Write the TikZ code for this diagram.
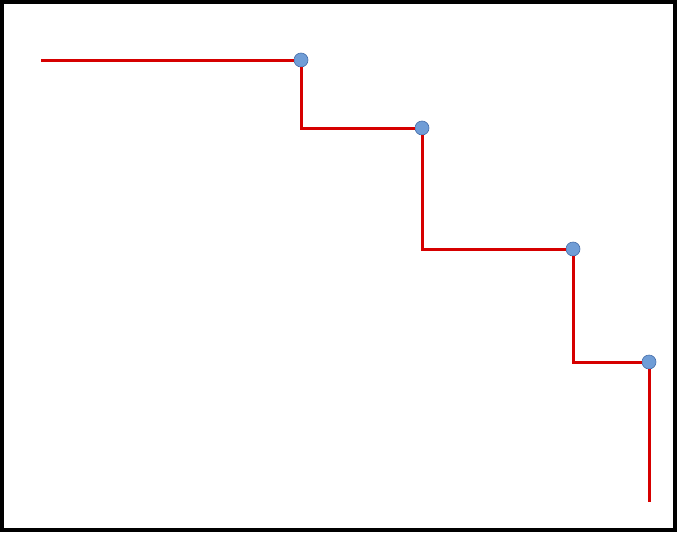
\documentclass[tikz,border=0pt]{standalone}
\begin{document}
\begin{tikzpicture}[x=1pt,y=-1pt,
  redline/.style={draw={rgb,255:red,214;green,0;blue,0}, line width=3pt},
  dot/.style={circle, minimum size=14pt, inner sep=0pt, fill={rgb,255:red,112;green,157;blue,214}, draw={rgb,255:red,70;green,110;blue,170}, line width=0.6pt},
  frame/.style={draw=black, line width=4pt}]
\useasboundingbox (0,0) rectangle (677,533);
\draw[frame] (2,2) rectangle (675,530);
\coordinate (s) at (41,60);
\coordinate (m1) at (157,60);
\coordinate (c1) at (301,128);
\coordinate (c2) at (422,249);
\coordinate (c3) at (573,362);
\coordinate (m2) at (649,445);
\coordinate (e) at (649,502);
\node[dot] (p1) at (301,60) {};
\node[dot] (p2) at (422,128) {};
\node[dot] (p3) at (573,249) {};
\node[dot] (p4) at (649,362) {};
\draw[redline] (s) -- (m1);
\draw[redline] (m1) -- (p1.west);
\draw[redline] (p1.south) -- (c1) -- (p2.west);
\draw[redline] (p2.south) -- (c2) -- (p3.west);
\draw[redline] (p3.south) -- (c3) -- (p4.west);
\draw[redline] (p4.south) -- (m2);
\draw[redline] (m2) -- (e);
\end{tikzpicture}
\end{document}
